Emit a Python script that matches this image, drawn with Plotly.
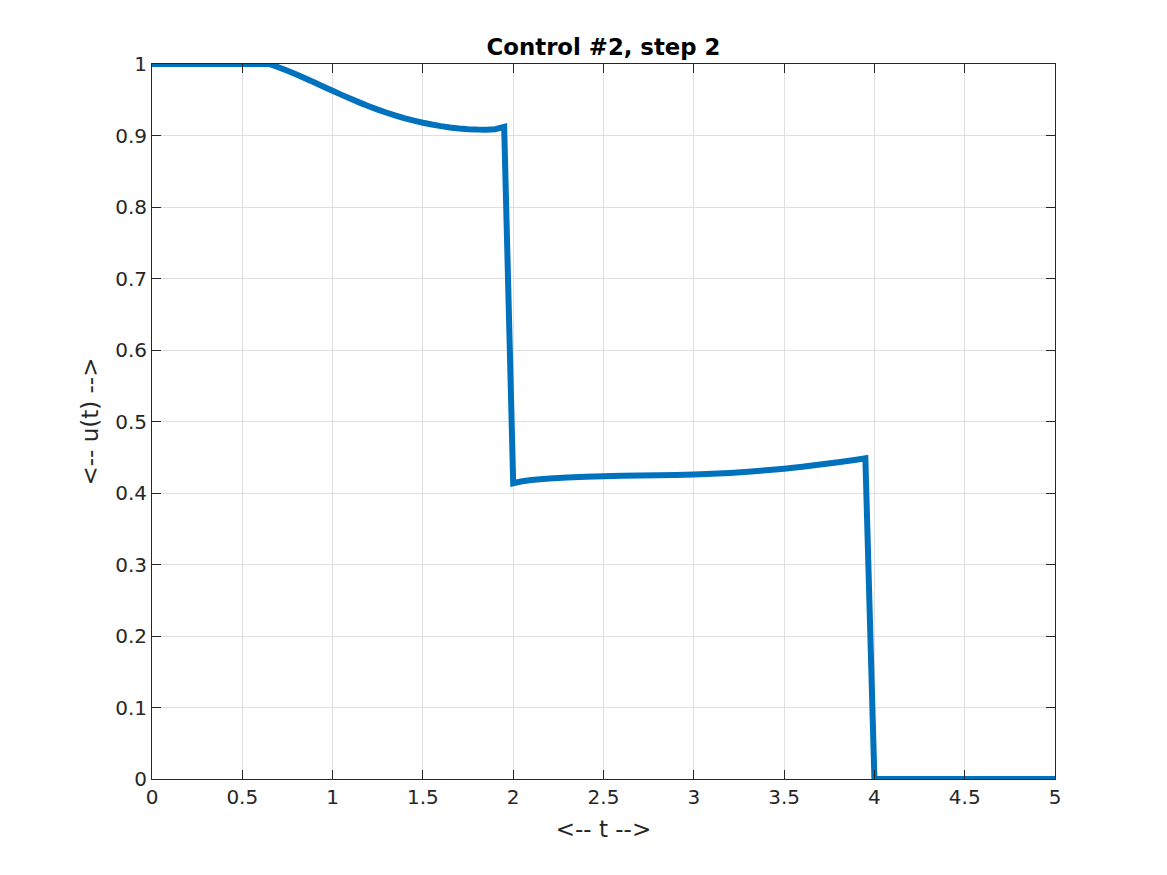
import plotly.graph_objects as go

t_vals = [0.0, 0.65, 0.70, 0.75, 0.80, 0.85, 0.90, 0.95, 1.00, 1.05, 1.10, 1.15, 1.20, 1.25,
          1.30, 1.35, 1.40, 1.45, 1.50, 1.55, 1.60, 1.65, 1.70, 1.75, 1.80, 1.85, 1.90, 1.95,
          2.00, 2.05, 2.10, 2.20, 2.30, 2.40, 2.50, 2.60, 2.70, 2.80, 2.90, 3.00, 3.10, 3.20,
          3.30, 3.40, 3.50, 3.60, 3.70, 3.80, 3.90, 3.95,
          4.00, 5.00]
u_vals = [1.0, 1.0, 0.9955, 0.9905, 0.9852, 0.9797, 0.9740, 0.9683, 0.9625, 0.9568, 0.9513,
          0.9460, 0.9410, 0.9362, 0.9318, 0.9277, 0.9240, 0.9207, 0.9178, 0.9153, 0.9131,
          0.9113, 0.9099, 0.9089, 0.9083, 0.9082, 0.9088, 0.9120,
          0.4137, 0.4165, 0.4182, 0.4203, 0.4217, 0.4227, 0.4235, 0.4240, 0.4244, 0.4248,
          0.4253, 0.4259, 0.4268, 0.4281, 0.4298, 0.4318, 0.4340, 0.4366, 0.4398, 0.4430,
          0.4465, 0.4485,
          0.0, 0.0]

x_ticks = [0, 0.5, 1, 1.5, 2, 2.5, 3, 3.5, 4, 4.5, 5]
x_ticktext = ["0", "0.5", "1", "1.5", "2", "2.5", "3", "3.5", "4", "4.5", "5"]
y_ticks = [0, 0.1, 0.2, 0.3, 0.4, 0.5, 0.6, 0.7, 0.8, 0.9, 1]
y_ticktext = ["0", "0.1", "0.2", "0.3", "0.4", "0.5", "0.6", "0.7", "0.8", "0.9", "1"]

title_text = "Control #2, step 2"
x_label = "<-- t -->"
y_label = "<-- u(t) -->"

FONT = "DejaVu Sans"

fig = go.Figure()
fig.add_trace(go.Scatter(x=t_vals, y=u_vals, mode="lines",
                         line=dict(color="#0072BD", width=6, simplify=False),
                         cliponaxis=False, showlegend=False))

axis_common = dict(
    showline=True, linecolor="#262626", linewidth=1, mirror="ticks",
    ticks="inside", ticklen=9, tickcolor="#262626", tickwidth=1,
    showgrid=True, gridcolor="#dfdfdf", gridwidth=1, zeroline=False,
    tickfont=dict(family=FONT, size=20, color="#262626"),
)

fig.update_xaxes(range=[0, 5], tickvals=x_ticks, ticktext=x_ticktext,
                 title=dict(text=x_label, standoff=12,
                            font=dict(family=FONT, size=23, color="#262626")),
                 **axis_common)
fig.update_yaxes(range=[0, 1], tickvals=y_ticks, ticktext=y_ticktext,
                 title=dict(text=y_label, standoff=10,
                            font=dict(family=FONT, size=23, color="#262626")),
                 **axis_common)

fig.update_layout(
    width=1159, height=867,
    margin=dict(l=144, r=112, t=56, b=96, autoexpand=False),
    paper_bgcolor="white", plot_bgcolor="white",
    title=dict(text="<b>" + title_text + "</b>", x=0.5, xref="paper", xanchor="center",
               y=1, yref="paper", yanchor="bottom", pad=dict(b=9),
               font=dict(family=FONT, size=22.8, color="black")),
)

fig.write_html("out.html")
